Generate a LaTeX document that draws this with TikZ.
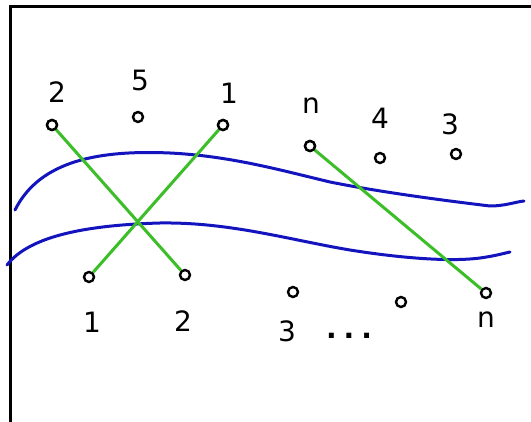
\documentclass[tikz,border=0pt]{standalone}
\usepackage{fontspec}
\setmainfont{DejaVu Sans}
\begin{document}
\begin{tikzpicture}[x=1pt,y=-1pt,
  dot/.style={circle,draw=black,line width=2.4pt,fill=white,inner sep=0pt,minimum size=10pt},
  lab/.style={font=\fontsize{28}{28}\selectfont,inner sep=0pt},
  link/.style={draw={rgb,255:red,60;green,190;blue,40},line width=3pt},
  wave/.style={draw={rgb,255:red,20;green,20;blue,190},line width=3pt,line cap=round}]
\useasboundingbox (0,0) rectangle (531,422);
\fill[white] (0,0) rectangle (531,422);
\draw[line width=3pt] (10,422) -- (10,7) -- (531,7);
% blue curves
\draw[wave] (15,210) .. controls (40,160) and (100,150) .. (170,153)
  .. controls (230,156) and (280,170) .. (330,182)
  .. controls (380,192) and (440,200) .. (490,206)
  .. controls (505,206) and (515,202) .. (524,201);
\draw[wave] (7,265) .. controls (30,235) and (90,225) .. (160,223)
  .. controls (230,222) and (290,240) .. (350,250)
  .. controls (400,258) and (450,262) .. (480,258)
  .. controls (495,256) and (505,253) .. (510,252);
% nodes
\node[dot] (t2) at (52,125) {};
\node[dot] (t5) at (138,117) {};
\node[dot] (t1) at (223,125) {};
\node[dot] (tn) at (310,146) {};
\node[dot] (t4) at (380,158) {};
\node[dot] (t3) at (456,154) {};
\node[dot] (b1) at (89,277) {};
\node[dot] (b2) at (185,275) {};
\node[dot] (b3) at (293,292) {};
\node[dot] (b4) at (401,302) {};
\node[dot] (bn) at (486,293) {};
% links
\draw[link] (t2.center) -- (b2);
\draw[link] (t1.center) -- (b1);
\draw[link] (tn.center) -- (bn);
\node[dot] at (t2) {};
\node[dot] at (t1) {};
\node[dot] at (tn) {};
% labels
\node[lab] (l2) at (57,92) {2};
\node[lab] (l5) at (140,80) {5};
\node[lab] (l1) at (229,93) {1};
\node[lab] (ln) at (311,106) {n};
\node[lab] (l4) at (380,118) {4};
\node[lab] (l3) at (450,124) {3};
\node[lab] (m1) at (92,322) {1};
\node[lab] (m2) at (183,321) {2};
\node[lab] (m3) at (287,331) {3};
\node[lab,font=\fontsize{28}{28}\selectfont\bfseries] (md) at (349,336) {.\hspace{7pt}.\hspace{7pt}.};
\node[lab] (mn) at (486,320) {n};
\end{tikzpicture}
\end{document}
